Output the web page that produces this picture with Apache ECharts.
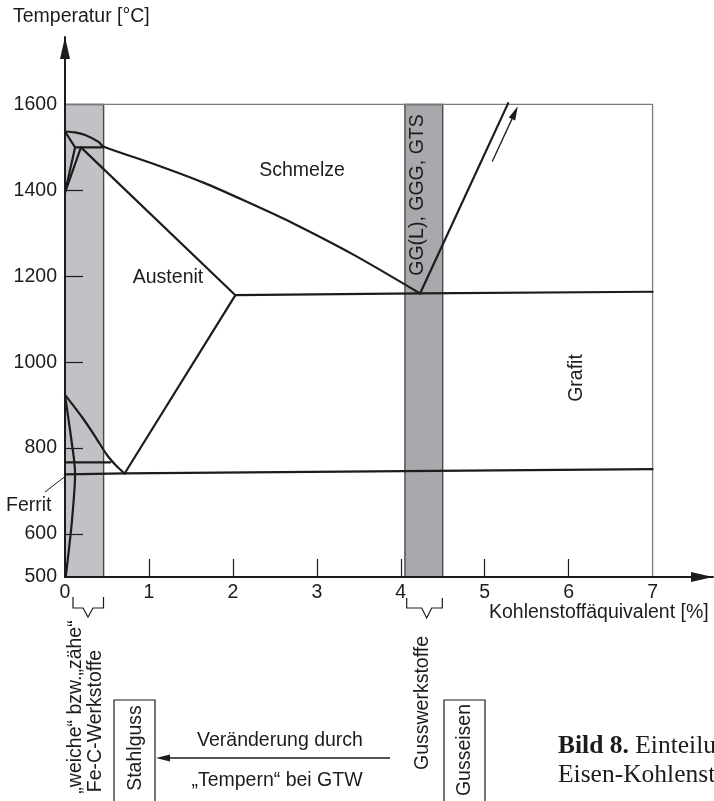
<!DOCTYPE html>
<html><head><meta charset="utf-8">
<script src="https://cdn.jsdelivr.net/npm/echarts@6/dist/echarts.min.js"></script>
<style>html,body{margin:0;padding:0;background:#fff}#c{width:714px;height:801px}</style>
</head><body><div id="c"></div>
<script>
// ---- axis ticks / labels ----
const xTickLabels = [0, 1, 2, 3, 4, 5, 6, 7];
const xTickMarks = [1, 2, 3, 4, 5, 6];
const yTickLabels = [500, 600, 800, 1000, 1200, 1400, 1600];
const yTickMarks = [600, 800, 1000, 1200, 1400];

// ---- phase boundary lines [C-equivalent %, temperature °C] ----
const liquidus = [[0, 1537], [0.12, 1535], [0.24, 1529], [0.40, 1513], [0.456, 1502], [1.05, 1462], [1.65, 1418], [2.24, 1367], [2.68, 1327], [3.43, 1251], [4.23, 1160]];
const graphiteLiquidus = [[4.23, 1160], [5.28, 1603]];
const deltaSolidus = [[0, 1537], [0.12, 1500]];
const peritectic = [[0.12, 1500], [0.456, 1500]];
const deltaLeft = [[0.12, 1500], [0, 1395]];
const deltaRight = [[0.19, 1500], [0, 1395]];
const austeniteSolidus = [[0.19, 1500], [2.03, 1156]];
const eutectic = [[2.03, 1156], [4.23, 1160], [7, 1164]];
const austeniteSolvus = [[2.03, 1156], [0.71, 741]];
const eutectoid = [[0, 739], [0.71, 741], [7, 751]];
const curieLine = [[0, 767], [0.54, 767]];
const a3Line = [[0, 924], [0.2, 873], [0.36, 827], [0.5, 784], [0.62, 757], [0.71, 741]];
const ferriteLine = [[0, 924], [0.06, 842], [0.11, 770], [0.12, 740], [0.08, 625], [0.01, 502]];
const frame = [[0, 1600], [7, 1600], [7, 500]];
const riseArrow = [[5.09, 1467], [5.36, 1581]];
// ---- shaded material bands ----
const bandSteel = [0, 0.46];
const bandCast = [4.05, 4.5];
const bandRange = [500, 1600];

const FONT = '"Liberation Sans", Arial, Helvetica, sans-serif';
const SERIF = '"Liberation Serif", "Times New Roman", serif';
const INK = '#1c1c1c';
const FS = 19.5;

function phaseLine(data, smooth) {
  return {
    type: 'line', data: data, symbol: 'none', smooth: smooth || false, z: 3, silent: true,
    lineStyle: { color: INK, width: 2.2, cap: 'round', join: 'round' }
  };
}
function txt(text, x, y, opt) {
  opt = opt || {};
  const align = opt.align || 'center';
  const valign = opt.valign || 'middle';
  const style = {
    text: text, font: opt.font || (FS + 'px ' + FONT), fill: opt.color || INK,
    textAlign: align, align: align, textVerticalAlign: valign, verticalAlign: valign
  };
  if (opt.rich) style.rich = opt.rich;
  return { type: 'text', x: x, y: y, rotation: opt.rot || 0, silent: true, z: 100, style: style };
}
function poly(points, w) {
  return { type: 'polyline', silent: true, z: 100, shape: { points: points },
    style: { stroke: INK, lineWidth: w || 1.2, fill: null } };
}

const chart = echarts.init(document.getElementById('c'), null, { renderer: 'canvas' });
const V = Math.PI / 2;
chart.setOption({
  animation: false,
  backgroundColor: '#fff',
  grid: { left: 65, right: 1, top: 37, bottom: 224 },
  xAxis: {
    type: 'value', min: 0, max: 7.72, interval: 1, z: 10,
    splitLine: { show: false },
    axisLine: { show: true, onZero: false, symbol: ['none', 'triangle'], symbolSize: [10, 22], symbolOffset: [0, -11],
      lineStyle: { color: INK, width: 2 } },
    axisTick: { show: true, inside: true, length: 18, customValues: xTickMarks, lineStyle: { color: INK, width: 1.2 } },
    axisLabel: { customValues: xTickLabels, color: INK, fontSize: FS, fontFamily: FONT, margin: 6,
      formatter: v => (xTickLabels.indexOf(v) >= 0 ? String(v) : '') }
  },
  yAxis: {
    type: 'value', min: 500, max: 1757, interval: 100, z: 10,
    splitLine: { show: false },
    axisLine: { show: true, onZero: false, symbol: ['none', 'triangle'], symbolSize: [10, 22], symbolOffset: [0, -11],
      lineStyle: { color: INK, width: 2 } },
    axisTick: { show: true, inside: true, length: 18, customValues: yTickMarks, lineStyle: { color: INK, width: 1.2 } },
    axisLabel: { customValues: yTickLabels, color: INK, fontSize: FS, fontFamily: FONT, margin: 8,
      formatter: v => (yTickLabels.indexOf(v) >= 0 ? String(v) : '') }
  },
  series: [
    {
      type: 'line', data: frame, symbol: 'none', z: 1, silent: true,
      lineStyle: { color: '#7a7a7a', width: 1.3 },
      markArea: {
        silent: true,
        itemStyle: { borderColor: '#4a4a4a', borderWidth: 1.4 },
        data: [
          [{ coord: [bandSteel[0], bandRange[0]], itemStyle: { color: '#c1c2c6', borderColor: '#4a4a4a', borderWidth: 1.4 } }, { coord: [bandSteel[1], bandRange[1]] }],
          [{ coord: [bandCast[0], bandRange[0]], itemStyle: { color: '#a8a9ad', borderColor: '#4a4a4a', borderWidth: 1.4 } }, { coord: [bandCast[1], bandRange[1]] }]
        ]
      }
    },
    phaseLine(liquidus, 0.3),
    phaseLine(graphiteLiquidus),
    phaseLine(deltaSolidus),
    phaseLine(peritectic),
    phaseLine(deltaLeft),
    phaseLine(deltaRight),
    phaseLine(austeniteSolidus),
    phaseLine(eutectic),
    phaseLine(austeniteSolvus),
    phaseLine(eutectoid),
    phaseLine(curieLine),
    phaseLine(a3Line, 0.3),
    phaseLine(ferriteLine, 0.2),
    {
      type: 'line', data: [], symbol: 'none', z: 4, silent: true,
      markLine: {
        silent: true, symbol: ['none', 'triangle'], symbolSize: [7, 14],
        label: { show: false },
        lineStyle: { color: INK, width: 1.3, type: 'solid' },
        data: [[{ coord: riseArrow[0] }, { coord: riseArrow[1] }]]
      }
    }
  ],
  graphic: [
    txt('Temperatur [°C]', 13, 17, { align: 'left' }),
    txt('Schmelze', 302, 171),
    txt('Austenit', 168, 278),
    txt('Grafit', 577, 378, { rot: V }),
    txt('GG(L), GGG, GTS', 418, 195, { rot: V }),
    txt('Ferrit', 6, 506, { align: 'left' }),
    { type: 'line', silent: true, z: 100, shape: { x1: 45, y1: 492, x2: 65, y2: 476.5 }, style: { stroke: INK, lineWidth: 1 } },
    txt('Kohlenstoffäquivalent [%]', 489, 613, { align: 'left' }),
    poly([[73, 597], [73, 608], [83, 608], [88, 617], [93, 608], [103.5, 608], [103.5, 597]]),
    poly([[406.7, 598], [406.7, 608], [421.7, 608], [426.7, 618], [431.7, 608], [442.3, 608], [442.3, 598]]),
    txt('„weiche“ bzw.„zähe“', 76, 707, { rot: V }),
    txt('Fe-C-Werkstoffe', 96, 721, { rot: V }),
    { type: 'rect', silent: true, z: 100, shape: { x: 114, y: 700, width: 41, height: 120 }, style: { stroke: INK, lineWidth: 1.2, fill: null } },
    txt('Stahlguss', 136, 748, { rot: V }),
    txt('Gusswerkstoffe', 423, 703, { rot: V }),
    { type: 'rect', silent: true, z: 100, shape: { x: 444, y: 700, width: 41, height: 120 }, style: { stroke: INK, lineWidth: 1.2, fill: null } },
    txt('Gusseisen', 465, 750, { rot: V }),
    { type: 'line', silent: true, z: 100, shape: { x1: 390, y1: 758, x2: 165, y2: 758 }, style: { stroke: INK, lineWidth: 1.3 } },
    { type: 'polygon', silent: true, z: 100, shape: { points: [[156, 758], [170, 754.5], [170, 761.5]] }, style: { fill: INK } },
    txt('Veränderung durch', 280, 741),
    txt('„Tempern“ bei GTW', 277, 781),
    txt('{b|Bild 8.} Einteilung der', 558, 746, { align: 'left', font: '25.5px ' + SERIF,
      rich: { b: { font: 'bold 25.5px ' + SERIF, fill: INK } } }),
    txt('Eisen-Kohlenstoff-Werkstoffe', 558, 775, { align: 'left', font: '25.5px ' + SERIF })
  ]
});
</script>
</body></html>
